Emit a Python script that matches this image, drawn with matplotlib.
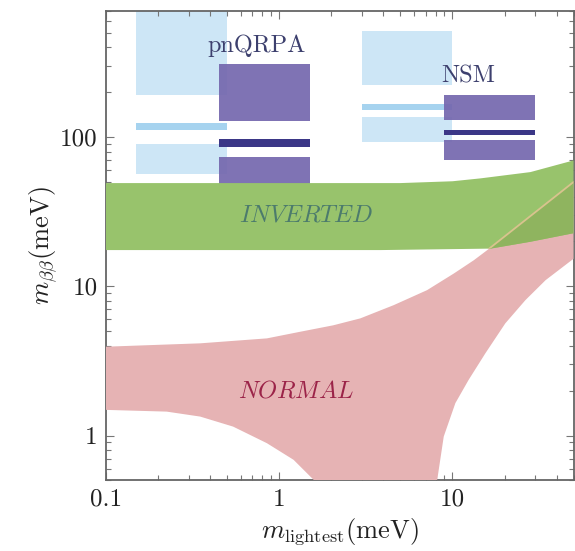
import matplotlib
matplotlib.use("Agg")
import matplotlib.pyplot as plt
from matplotlib.patches import Polygon, Rectangle

plt.rcParams['mathtext.fontset'] = 'cm'
plt.rcParams['font.family'] = ['cmr10', 'DejaVu Serif']
plt.rcParams['axes.formatter.use_mathtext'] = True
plt.rcParams['axes.unicode_minus'] = False

# ---------------- data (meV) ----------------
# Inverted ordering band
inv_up_x = [0.1, 5.0, 10.0, 14.5, 28.2, 50.0]
inv_up_y = [49.2, 49.2, 50.6, 52.9, 58.3, 69.8]
inv_lo_x = [0.1, 3.84, 16.6, 28.2, 50.0]
inv_lo_y = [17.5, 17.5, 17.9, 19.9, 22.7]

# Normal ordering band
nor_up_x = [0.1, 0.35, 0.85, 1.32, 2.05, 2.94, 4.58, 7.14, 10.2, 13.3, 15.9, 50.0]
nor_up_y = [3.94, 4.15, 4.48, 4.96, 5.48, 6.10, 7.48, 9.43, 12.2, 14.97, 17.5, 50.0]
nor_lo_left_x = [0.1, 0.224, 0.35, 0.542, 0.849, 1.21, 1.578, 2.0]
nor_lo_left_y = [1.486, 1.447, 1.34, 1.148, 0.889, 0.688, 0.506, 0.25]
nor_lo_right_x = [7.6, 8.16, 8.91, 10.4, 12.4, 15.5, 20.2, 26.4, 34.5, 50.0]
nor_lo_right_y = [0.25, 0.5, 0.985, 1.65, 2.36, 3.56, 5.65, 8.09, 11.0, 15.3]

# Bounds from experiments: (x0, x1, y0, y1)
pnqrpa_light = [(0.15, 0.5, 192, 1000), (0.15, 0.5, 111, 124), (0.15, 0.5, 57, 89.4)]
pnqrpa_dark = [(0.45, 1.5, 128, 310), (0.45, 1.5, 48, 73.5)]
pnqrpa_line = [(0.45, 1.5, 85.3, 97)]
nsm_light = [(3.0, 10.0, 225, 514), (3.0, 10.0, 152.5, 167.3), (3.0, 10.0, 92.6, 136)]
nsm_dark = [(9.0, 30.0, 129.3, 192), (9.0, 30.0, 70.6, 96.1)]
nsm_line = [(9.0, 30.0, 102.6, 112.1)]

labels = {"pnQRPA": (0.743, 411), "NSM": (12.4, 255)}
band_labels = {"INVERTED": (1.43, 29.9), "NORMAL": (1.25, 1.97)}

xticks = [0.1, 1, 10]
xticklabels = ["0.1", "1", "10"]
yticks = [1, 10, 100]
yticklabels = ["1", "10", "100"]

# ---------------- figure ----------------
fig = plt.figure(figsize=(5.75, 5.51), dpi=100)
ax = fig.add_axes([0.1843, 0.128, 0.8131, 0.852])
ax.set_xscale('log')
ax.set_yscale('log')
ax.set_xlim(0.1, 50)
ax.set_ylim(0.5, 700)

def add_rects(lst, color, alpha=1.0, z=1):
    for (x0, x1, y0, y1) in lst:
        ax.add_patch(Rectangle((x0, y0), x1 - x0, y1 - y0, facecolor=color,
                               edgecolor='none', alpha=alpha, zorder=z))

add_rects(pnqrpa_light, '#cde6f6', 1.0, 1)
add_rects(nsm_light, '#cde6f6', 1.0, 1)
add_rects([pnqrpa_light[1]], '#a6d3ef', 1.0, 1.1)
add_rects([nsm_light[1]], '#a6d3ef', 1.0, 1.1)
add_rects(pnqrpa_dark, '#7467ae', 0.92, 2)
add_rects(nsm_dark, '#7467ae', 0.92, 2)
add_rects(pnqrpa_line, '#3b3787', 1.0, 2.1)
add_rects(nsm_line, '#3b3787', 1.0, 2.1)

# normal band polygon
nor_pts = list(zip(nor_up_x, nor_up_y)) + list(zip(nor_lo_right_x[::-1], nor_lo_right_y[::-1])) \
    + list(zip(nor_lo_left_x[::-1], nor_lo_left_y[::-1]))
nor_poly = Polygon(nor_pts, closed=True, facecolor='#e6b3b4', edgecolor='none', zorder=3)
ax.add_patch(nor_poly)

# inverted band polygon
inv_pts = list(zip(inv_up_x, inv_up_y)) + list(zip(inv_lo_x[::-1], inv_lo_y[::-1]))
inv_poly = Polygon(inv_pts, closed=True, facecolor='#98c36c', edgecolor='none', zorder=4)
ax.add_patch(inv_poly)

# overlap region
ov = Polygon(nor_pts, closed=True, facecolor='#8fb45f', edgecolor='none', zorder=5)
ax.add_patch(ov)
ov.set_clip_path(inv_poly)
ln, = ax.plot(nor_up_x, nor_up_y, color='#d9c38e', lw=1.3, zorder=6)
ln.set_clip_path(inv_poly)

for txt, (x, y) in labels.items():
    ax.text(x, y, txt, fontsize=17.5, color='#3d406e', ha='center', va='center',
            family='cmr10', zorder=7)

ax.text(*band_labels["INVERTED"], r'$\mathit{INVERTED}$', fontsize=17.5, color='#4c7b6c',
        ha='center', va='center', zorder=7)
ax.text(*band_labels["NORMAL"], r'$\mathit{NORMAL}$', fontsize=17.5, color='#9b2348',
        ha='center', va='center', zorder=7)

ax.set_xticks(xticks)
ax.set_xticklabels(xticklabels)
ax.set_yticks(yticks)
ax.set_yticklabels(yticklabels)
ax.tick_params(which='both', direction='in', top=True, right=True, colors='#777777',
               labelcolor='#222222', labelsize=18, width=0.8)
ax.tick_params(which='major', length=6, pad=6)
ax.tick_params(which='minor', length=3.5)
for lab in ax.get_xticklabels() + ax.get_yticklabels():
    lab.set_family('cmr10')
for s in ax.spines.values():
    s.set_color('#666666')
    s.set_linewidth(1.3)

ax.set_xlabel(r'$m_{\mathrm{lightest}}(\mathrm{meV})$', fontsize=19, color='#222222', labelpad=4)
ax.set_ylabel(r'$m_{\beta\beta}(\mathrm{meV})$', fontsize=19, color='#222222', labelpad=1)

fig.savefig('out.png', dpi=100)
